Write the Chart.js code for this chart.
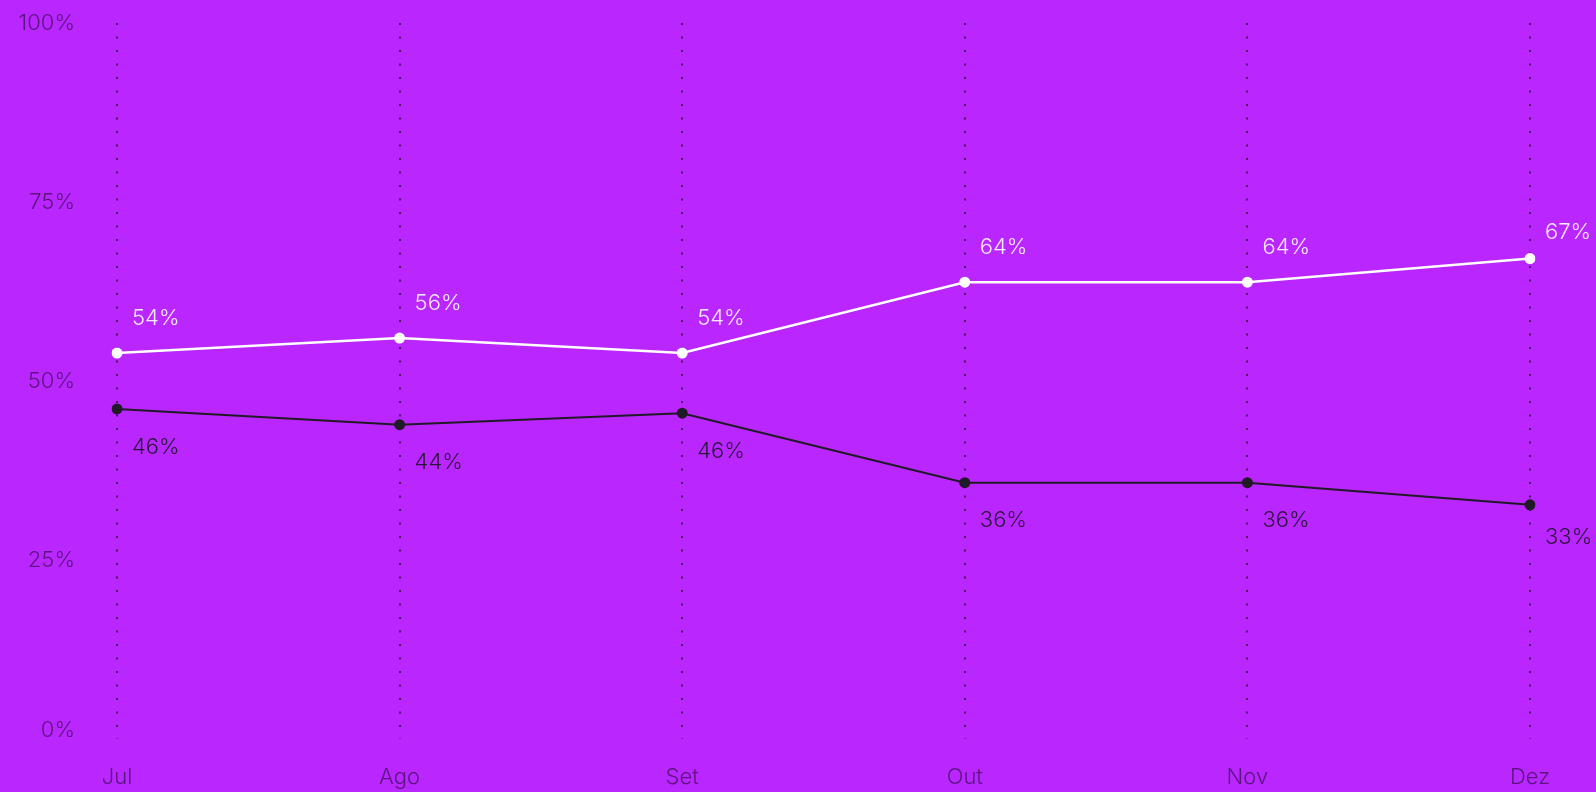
<!DOCTYPE html>
<html>
<head>
<meta charset="utf-8">
<script src="https://cdn.jsdelivr.net/npm/chart.js@4"></script>
<style>
  html, body { margin: 0; padding: 0; background: #b926fe; }
  #wrap { width: 1596px; height: 792px; }
</style>
</head>
<body>
<div id="wrap"><canvas id="chart" width="1596" height="792"></canvas></div>
<script>
// data
const months = ["Jul", "Ago", "Set", "Out", "Nov", "Dez"];
const whiteValues = [53.9, 56.0, 53.9, 63.8, 63.8, 67.1];
const blackValues = [46.1, 43.9, 45.5, 35.8, 35.8, 32.7];
const yTicks = [0, 25, 50, 75, 100];

const FONT = "Inter, 'Open Sans', sans-serif";
const axisColor = "#5c1580";

// draws tick labels and value labels on top of the chart
const labelPlugin = {
    id: "labels",
    afterDatasetsDraw(chart) {
        const ctx = chart.ctx;
        const x = chart.scales.x;
        const y = chart.scales.y;
        ctx.save();
        ctx.font = "300 22px " + FONT;
        ctx.fillStyle = axisColor;
        ctx.textBaseline = "middle";

        // y axis labels
        ctx.textAlign = "right";
        yTicks.forEach((t) => {
            let py = y.getPixelForValue(t);
            if (t === 0) py -= 9; // lifted off the bottom edge
            ctx.fillText(t + "%", 75, py);
        });

        // x axis labels
        ctx.textAlign = "center";
        months.forEach((m, i) => {
            ctx.fillText(m, x.getPixelForValue(i), y.bottom + 38);
        });

        // value labels
        ctx.textAlign = "left";
        chart.data.datasets.forEach((ds, di) => {
            const meta = chart.getDatasetMeta(di);
            ctx.fillStyle = ds.labelColor;
            meta.data.forEach((pt, i) => {
                const last = i === ds.data.length - 1;
                let dy = di === 0 ? -35 : 38;
                if (last) dy = di === 0 ? -26 : 33;
                ctx.fillText(Math.round(ds.data[i]) + "%", pt.x + 15, pt.y + dy);
            });
        });
        ctx.restore();
    }
};

const ctx = document.getElementById("chart").getContext("2d");
new Chart(ctx, {
    type: "line",
    data: {
        labels: months,
        datasets: [
            {
                label: "white",
                data: whiteValues,
                borderColor: "#ffffff",
                backgroundColor: "#ffffff",
                borderWidth: 2.5,
                pointRadius: 5.5,
                pointBorderWidth: 0,
                labelColor: "#f6eaff",
            },
            {
                label: "black",
                data: blackValues,
                borderColor: "#201a26",
                backgroundColor: "#201a26",
                borderWidth: 2,
                pointRadius: 5.5,
                pointBorderWidth: 0,
                labelColor: "#2a1638",
            },
        ],
    },
    options: {
        responsive: false,
        animation: false,
        layout: { padding: { left: 117, right: 66, top: 23, bottom: 53 } },
        plugins: {
            legend: { display: false },
            tooltip: { enabled: false },
        },
        scales: {
            x: {
                offset: false,
                ticks: { display: false },
                grid: { display: true, color: "#4a1468", lineWidth: 2, drawTicks: false },
                border: { display: false, dash: [2, 11.5] },
                afterFit(s) { s.height = 0; },
            },
            y: {
                min: 0,
                max: 100,
                ticks: { display: false },
                grid: { display: false, drawTicks: false },
                border: { display: false },
                afterFit(s) { s.width = 0; },
            },
        },
    },
    plugins: [labelPlugin],
});
</script>
</body>
</html>
